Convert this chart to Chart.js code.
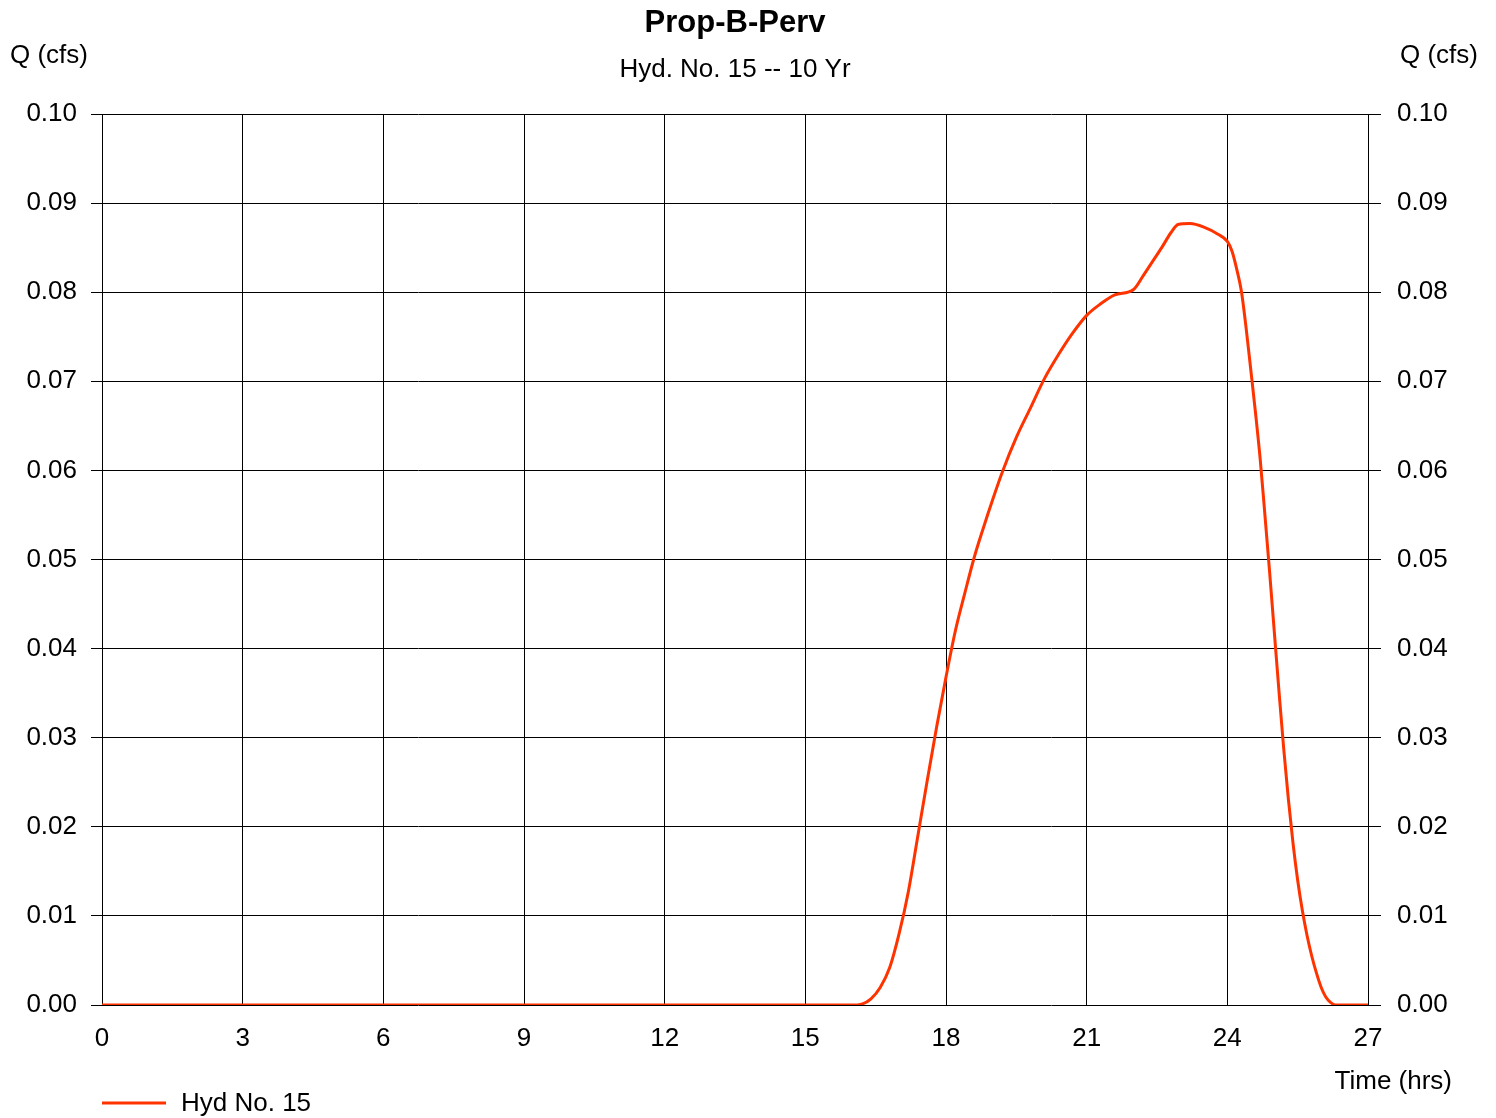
<!DOCTYPE html>
<html>
<head>
<meta charset="utf-8">
<title>Prop-B-Perv</title>
<script src="https://cdn.jsdelivr.net/npm/chart.js@4/dist/chart.umd.min.js"></script>
<style>
  html, body { margin: 0; padding: 0; background: #fff; }
  #wrap { width: 1496px; height: 1118px; }
</style>
</head>
<body>
<div id="wrap"><canvas id="hydroChart"></canvas></div>
<script>
// hydrograph (hrs, cfs)
const timeHrs = [0, 16.0, 16.2, 16.4, 16.6, 16.8, 17.0, 17.2, 17.4, 17.6, 17.8, 18.0, 18.2, 18.4, 18.6,
  18.8, 19.0, 19.2, 19.5, 19.8, 20.1, 20.4, 20.7, 21.0, 21.3, 21.6, 22.0, 22.2, 22.4, 22.6, 22.8,
  22.95, 23.2, 23.5, 23.8, 24.0, 24.1, 24.2, 24.3, 24.4, 24.5, 24.6, 24.7, 24.8, 24.9, 25.0, 25.1,
  25.2, 25.3, 25.4, 25.5, 25.6, 25.7, 25.8, 25.9, 26.0, 26.1, 26.2, 26.3, 27.0];
const flowCfs = [0, 0, 0.0001, 0.0007, 0.0020, 0.0042, 0.0080, 0.0128, 0.0190, 0.0252, 0.0312, 0.0368,
  0.0420, 0.0462, 0.0502, 0.0536, 0.0568, 0.0598, 0.0637, 0.0670, 0.0703, 0.0730, 0.0754, 0.0774,
  0.0787, 0.0797, 0.0803, 0.0818, 0.0834, 0.0850, 0.0867, 0.0876, 0.0877, 0.0873, 0.0865, 0.0857,
  0.0846, 0.0826, 0.0801, 0.0760, 0.0713, 0.0665, 0.0613, 0.0551, 0.0487, 0.0420, 0.0353, 0.0289,
  0.0232, 0.0182, 0.0140, 0.0106, 0.0078, 0.0055, 0.0036, 0.0020, 0.0009, 0.0003, 0, 0];

const chartTitle = 'Prop-B-Perv';
const chartSubtitle = 'Hyd. No. 15 -- 10 Yr';
const seriesLabel = 'Hyd No. 15';
const yAxisTitle = 'Q (cfs)';
const xAxisTitle = 'Time (hrs)';

const FONT = "'Liberation Sans', Arial, Helvetica, sans-serif";
const LINE_COLOR = '#ff3300';

// titles, axis captions and legend drawn round the plot
const captionsPlugin = {
    id: 'captions',
    afterDraw(chart) {
        const ctx = chart.ctx;
        const area = chart.chartArea;
        ctx.save();
        ctx.fillStyle = '#000';
        ctx.textBaseline = 'middle';

        ctx.textAlign = 'center';
        ctx.font = 'bold 31px ' + FONT;
        ctx.fillText(chartTitle, 735, 23);
        ctx.font = '26px ' + FONT;
        ctx.fillText(chartSubtitle, 735, 70);

        ctx.textAlign = 'left';
        ctx.fillText(yAxisTitle, 10, 56);
        ctx.textAlign = 'right';
        ctx.fillText(yAxisTitle, 1478, 56);
        ctx.fillText(xAxisTitle, 1452, 1082);

        // legend
        ctx.strokeStyle = LINE_COLOR;
        ctx.lineWidth = 3;
        ctx.beginPath();
        ctx.moveTo(area.left, 1103);
        ctx.lineTo(area.left + 64, 1103);
        ctx.stroke();
        ctx.textAlign = 'left';
        ctx.fillText(seriesLabel, 181, 1104);
        ctx.restore();
    }
};

function initializeChart() {
    const ctx = document.getElementById('hydroChart');
    const points = timeHrs.map((t, i) => ({ x: t, y: flowCfs[i] }));
    const tickFont = { family: FONT, size: 26 };

    new Chart(ctx, {
        type: 'line',
        data: {
            datasets: [{
                label: seriesLabel,
                data: points,
                borderColor: LINE_COLOR,
                borderWidth: 3,
                pointRadius: 0,
                cubicInterpolationMode: 'monotone',
                fill: false,
                yAxisID: 'y'
            }]
        },
        options: {
            responsive: true,
            maintainAspectRatio: false,
            animation: false,
            layout: { padding: { top: 114, left: 0, right: 0, bottom: 0 } },
            plugins: {
                legend: { display: false },
                title: { display: false },
                tooltip: { enabled: false }
            },
            scales: {
                x: {
                    type: 'linear',
                    min: 0,
                    max: 27,
                    afterFit(scale) { scale.height = 113; },
                    border: { display: false },
                    grid: { color: '#000', lineWidth: 1, tickLength: 0 },
                    ticks: { stepSize: 3, color: '#000', font: tickFont, padding: 18, maxRotation: 0 }
                },
                y: {
                    position: 'left',
                    min: 0,
                    max: 0.1,
                    afterFit(scale) { scale.width = 102; },
                    border: { display: false },
                    grid: { color: '#000', lineWidth: 1, tickLength: 11 },
                    ticks: {
                        stepSize: 0.01, color: '#000', font: tickFont, padding: 14,
                        callback: v => v.toFixed(2)
                    }
                },
                y2: {
                    position: 'right',
                    min: 0,
                    max: 0.1,
                    afterFit(scale) { scale.width = 128; },
                    border: { display: false },
                    grid: { drawOnChartArea: false, color: '#000', lineWidth: 1, tickLength: 13 },
                    ticks: {
                        stepSize: 0.01, color: '#000', font: tickFont, padding: 16,
                        callback: v => v.toFixed(2)
                    }
                }
            }
        },
        plugins: [captionsPlugin]
    });
}

if (document.readyState === 'loading') {
    document.addEventListener('DOMContentLoaded', initializeChart);
} else {
    initializeChart();
}
</script>
</body>
</html>
